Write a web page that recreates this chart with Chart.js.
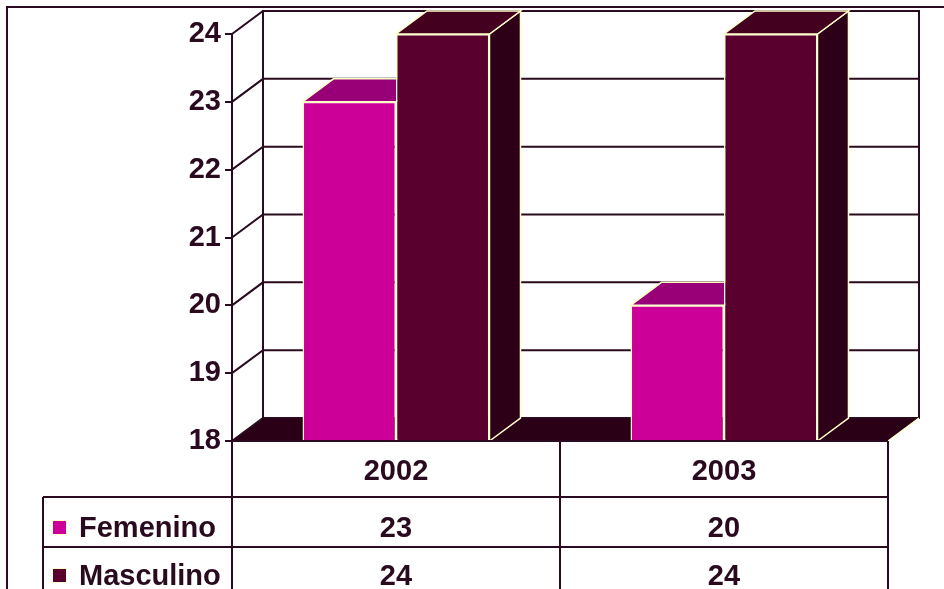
<!DOCTYPE html>
<html>
<head>
<meta charset="utf-8">
<script src="https://cdn.jsdelivr.net/npm/chart.js@4"></script>
<style>
  html, body { margin: 0; padding: 0; background: #fff; overflow: hidden; }
  canvas { display: block; }
</style>
</head>
<body>
<canvas id="c" width="944" height="589"></canvas>
<script>
// Data
const categories = ['2002', '2003'];
const seriesNames = ['Femenino', 'Masculino'];
const femenino = [23, 20];
const masculino = [24, 24];
const yTicks = [18, 19, 20, 21, 22, 23, 24];

// Look
const INK = '#2A0A1E';
const EDGE = '#FFFFCC';
const FLOOR = '#2A0016';
const FONT = 'bold 29px "Liberation Sans", Arial, sans-serif';
const DX = 31, DY = -23;               // depth offset of the 3D box
const faces = [
  { front: '#CC0099', top: '#990077', side: '#66004C' },
  { front: '#5A002E', top: '#44001F', side: '#2E0018' }
];

function poly(ctx, pts, fill, stroke, lw) {
  ctx.beginPath();
  ctx.moveTo(pts[0][0], pts[0][1]);
  for (let i = 1; i < pts.length; i++) ctx.lineTo(pts[i][0], pts[i][1]);
  ctx.closePath();
  if (fill) { ctx.fillStyle = fill; ctx.fill(); }
  if (stroke) { ctx.strokeStyle = stroke; ctx.lineWidth = lw || 1; ctx.stroke(); }
}

const depthPlugin = {
  id: 'depth',
  beforeDraw(chart) {
    const ctx = chart.ctx;
    ctx.save();
    ctx.fillStyle = '#fff';
    ctx.fillRect(0, 0, chart.width, chart.height);
    // outer frame
    ctx.strokeStyle = INK;
    ctx.lineWidth = 2;
    ctx.beginPath();
    ctx.moveTo(7, chart.height + 2);
    ctx.lineTo(7, 7);
    ctx.lineTo(chart.width + 2, 7);
    ctx.stroke();
    ctx.restore();
  },
  beforeDatasetsDraw(chart) {
    const { ctx, chartArea: a } = chart;
    const ys = chart.scales.y;
    ctx.save();
    ctx.lineJoin = 'miter';
    // back wall
    ctx.strokeStyle = INK;
    ctx.lineWidth = 2;
    ctx.strokeRect(a.left + DX, a.top + DY, a.right - a.left, a.bottom - a.top);
    // floor
    poly(ctx, [[a.left, a.bottom], [a.right, a.bottom], [a.right + DX, a.bottom + DY], [a.left + DX, a.bottom + DY]], FLOOR);
    // gridlines: side wall diagonal + back wall horizontal
    ctx.strokeStyle = INK;
    ctx.lineWidth = 2;
    ys.ticks.forEach(t => {
      const py = ys.getPixelForValue(t.value);
      ctx.beginPath();
      ctx.moveTo(a.left, py);
      ctx.lineTo(a.left + DX, py + DY);
      ctx.lineTo(a.right + DX, py + DY);
      ctx.stroke();
    });
    ctx.beginPath();
    ctx.moveTo(a.left + DX, a.top + DY);
    ctx.lineTo(a.left + DX, a.bottom + DY);
    ctx.stroke();
    // lit right edge of the floor
    ctx.strokeStyle = EDGE;
    ctx.lineWidth = 1.5;
    ctx.beginPath();
    ctx.moveTo(a.right, a.bottom);
    ctx.lineTo(a.right + DX, a.bottom + DY);
    ctx.stroke();
    // bar tops and sides (fronts are drawn by Chart.js on top)
    chart.data.datasets.forEach((ds, di) => {
      const meta = chart.getDatasetMeta(di);
      const f = faces[di];
      meta.data.forEach(el => {
        const p = el.getProps(['x', 'y', 'base', 'width'], true);
        const l = p.x - p.width / 2, r = p.x + p.width / 2;
        const b = Math.min(p.base, a.bottom);
        poly(ctx, [[r, p.y], [r + DX, p.y + DY], [r + DX, b + DY], [r, b]], f.side, EDGE, 1.5);
        poly(ctx, [[l, p.y], [r, p.y], [r + DX, p.y + DY], [l + DX, p.y + DY]], f.top, EDGE, 1.5);
      });
    });
    ctx.restore();
  },
  afterDraw(chart) {
    const { ctx, chartArea: a } = chart;
    const xs = chart.scales.x;
    const H = chart.height;
    const cols = [a.left];
    for (let i = 0; i < categories.length - 1; i++) {
      cols.push((xs.getPixelForValue(i) + xs.getPixelForValue(i + 1)) / 2);
    }
    cols.push(a.right);
    const r1 = a.bottom + 56, r2 = a.bottom + 106;
    const legendLeft = 43;
    ctx.save();
    ctx.strokeStyle = INK;
    ctx.lineWidth = 2;
    ctx.beginPath();
    ctx.moveTo(a.left, a.bottom); ctx.lineTo(a.right, a.bottom);
    ctx.moveTo(legendLeft, r1); ctx.lineTo(a.right, r1);
    ctx.moveTo(legendLeft, r2); ctx.lineTo(a.right, r2);
    cols.forEach(cx => { ctx.moveTo(cx, a.bottom); ctx.lineTo(cx, H + 2); });
    ctx.moveTo(legendLeft, r1); ctx.lineTo(legendLeft, H + 2);
    ctx.stroke();

    ctx.font = FONT;
    ctx.fillStyle = INK;
    ctx.textBaseline = 'alphabetic';
    ctx.textAlign = 'center';
    categories.forEach((c, i) => {
      const cx = (cols[i] + cols[i + 1]) / 2;
      ctx.fillText(c, cx, a.bottom + 39);
    });
    const rows = [femenino, masculino];
    const baselines = [r1 + 40, r2 + 38];
    rows.forEach((vals, ri) => {
      ctx.textAlign = 'center';
      ctx.fillStyle = INK;
      vals.forEach((v, i) => {
        const cx = (cols[i] + cols[i + 1]) / 2;
        ctx.fillText(String(v), cx, baselines[ri]);
      });
      // legend key
      const sy = baselines[ri] - 17;
      ctx.fillStyle = faces[ri].front;
      ctx.fillRect(52, sy, 15, 15);
      ctx.strokeStyle = EDGE;
      ctx.lineWidth = 1;
      ctx.strokeRect(52.5, sy + 0.5, 14, 14);
      ctx.fillStyle = INK;
      ctx.textAlign = 'left';
      ctx.fillText(seriesNames[ri], 79, baselines[ri]);
    });
    ctx.restore();
  }
};

new Chart(document.getElementById('c'), {
  type: 'bar',
  data: {
    labels: categories,
    datasets: [
      { label: seriesNames[0], data: femenino, backgroundColor: faces[0].front, borderColor: EDGE, borderWidth: 1.5 },
      { label: seriesNames[1], data: masculino, backgroundColor: faces[1].front, borderColor: EDGE, borderWidth: 1.5 }
    ]
  },
  options: {
    responsive: false,
    devicePixelRatio: 1,
    animation: false,
    layout: { padding: { top: 34, right: 56, bottom: 148, left: 0 } },
    plugins: { legend: { display: false }, tooltip: { enabled: false } },
    datasets: { bar: { categoryPercentage: 0.57, barPercentage: 1.0 } },
    scales: {
      x: { display: false },
      y: {
        min: yTicks[0],
        max: yTicks[yTicks.length - 1],
        afterBuildTicks(s) { s.ticks = yTicks.map(v => ({ value: v })); },
        afterFit(s) { s.width = 232; },
        ticks: { font: { family: '"Liberation Sans", Arial, sans-serif', size: 29, weight: 'bold' }, color: INK, padding: 4 },
        grid: { drawOnChartArea: false, drawTicks: true, tickLength: 7, color: INK, lineWidth: 2 },
        border: { color: INK, width: 2 }
      }
    }
  },
  plugins: [depthPlugin]
});
</script>
</body>
</html>
